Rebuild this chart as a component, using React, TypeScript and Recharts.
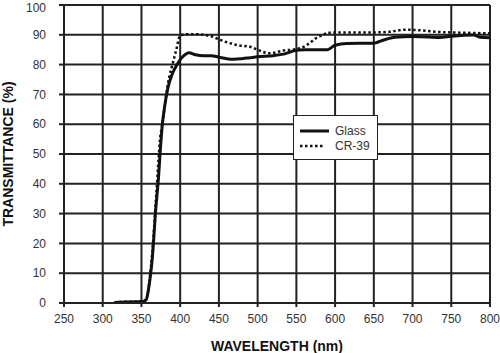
import React from 'react';
import { LineChart, Line, XAxis, YAxis, CartesianGrid } from 'recharts';

const xTicks = [250, 300, 350, 400, 450, 500, 550, 600, 650, 700, 750, 800];
const yTicks = [0, 10, 20, 30, 40, 50, 60, 70, 80, 90, 100];

const glassNm = [315, 330, 345, 352, 356, 358, 361, 364, 366, 368, 370, 372, 374, 377, 380, 384, 390, 396, 401, 407, 411, 420, 430, 440, 450, 460, 470, 480, 490, 500, 520, 535, 550, 560, 570, 590, 600, 615, 650, 660, 677, 700, 720, 735, 750, 779, 787, 800];
const glassT = [0.2, 0.3, 0.4, 0.5, 1, 3, 8, 15, 22, 30, 36, 42, 50, 60, 66, 72, 77, 80, 82, 83.5, 84, 83.3, 83, 83, 82.5, 82, 81.8, 82, 82.3, 82.6, 83, 83.6, 84.8, 85, 85, 85, 86.5, 87.1, 87.2, 88, 89.2, 89.4, 89.3, 89.1, 89.5, 89.9, 89.2, 89];

const crNm = [315, 330, 350, 355, 358, 361, 364, 366, 368, 370, 372, 374, 377, 380, 382, 386, 390, 395, 400, 410, 420, 430, 440, 450, 460, 475, 490, 500, 510, 516, 533, 550, 560, 567, 575, 585, 590, 620, 650, 670, 690, 710, 730, 750, 780, 800];
const crT = [0.2, 0.4, 0.5, 1, 3, 9, 17, 24, 32, 40, 48, 55, 60, 66, 70, 76, 80, 85, 89.8, 90.2, 90.2, 90, 89.5, 88.5, 87.5, 86.5, 86, 85, 84, 83.8, 84.7, 85.2, 86, 87.2, 88.8, 90, 90.7, 90.8, 90.8, 91, 91.7, 91.5, 91, 90.8, 90.6, 90.5];

const seriesNames = ['Glass', 'CR-39'];

const glassData = glassNm.map((nm, i) => ({ nm, t: glassT[i] }));
const crData = crNm.map((nm, i) => ({ nm, t: crT[i] }));

const FONT = '"Liberation Sans", Arial, sans-serif';
const INK = '#222';

const LegendBox = () => (
  <div style={{ position: 'absolute', left: 293, top: 115, width: 85, height: 45, border: `1.5px solid ${INK}`, background: '#fff', boxSizing: 'border-box', fontFamily: FONT, fontSize: 12, color: '#333' }}>
    <div style={{ display: 'flex', alignItems: 'center', height: 15, marginTop: 7 }}>
      <svg width={35} height={8} style={{ marginLeft: 6 }}>
        <line x1={0} y1={4} x2={29} y2={4} stroke="#111" strokeWidth={3} />
      </svg>
      <span>{seriesNames[0]}</span>
    </div>
    <div style={{ display: 'flex', alignItems: 'center', height: 15 }}>
      <svg width={35} height={8} style={{ marginLeft: 6 }}>
        <line x1={0} y1={4} x2={25} y2={4} stroke="#111" strokeWidth={2.5} strokeDasharray="2.5 2.5" />
      </svg>
      <span>{seriesNames[1]}</span>
    </div>
  </div>
);

export default function App() {
  return (
    <div style={{ position: 'absolute', left: 0, top: 0, width: 500, height: 353, background: '#fff' }}>
      <LineChart width={500} height={353} margin={{ top: 5, right: 10, bottom: 0, left: 0 }}>
        <CartesianGrid stroke={INK} strokeWidth={2} />
        <XAxis
          type="number"
          dataKey="nm"
          domain={[250, 800]}
          ticks={xTicks}
          allowDataOverflow
          height={50}
          tickSize={4}
          tickMargin={7}
          axisLine={{ stroke: INK, strokeWidth: 2 }}
          tickLine={{ stroke: INK, strokeWidth: 2 }}
          tick={{ fill: '#333', fontSize: 12, fontFamily: FONT }}
          label={{ value: 'WAVELENGTH (nm)', position: 'insideBottom', offset: 2, fill: '#111', fontSize: 14, fontWeight: 'bold', fontFamily: FONT }}
        />
        <YAxis
          type="number"
          domain={[0, 100]}
          ticks={yTicks}
          width={64}
          tickSize={5}
          tickMargin={13}
          axisLine={{ stroke: INK, strokeWidth: 2 }}
          tickLine={{ stroke: INK, strokeWidth: 2 }}
          tick={{ fill: '#333', fontSize: 12, fontFamily: FONT }}
          label={{ value: 'TRANSMITTANCE (%)', angle: -90, position: 'insideLeft', offset: 8, style: { textAnchor: 'middle' }, fill: '#111', fontSize: 14, fontWeight: 'bold', fontFamily: FONT }}
        />
        <Line name={seriesNames[1]} data={crData} dataKey="t" type="monotone" stroke="#111" strokeWidth={2.5} strokeDasharray="2.5 2.5" dot={false} isAnimationActive={false} />
        <Line name={seriesNames[0]} data={glassData} dataKey="t" type="monotone" stroke="#111" strokeWidth={3} dot={false} isAnimationActive={false} />
      </LineChart>
      <LegendBox />
    </div>
  );
}
